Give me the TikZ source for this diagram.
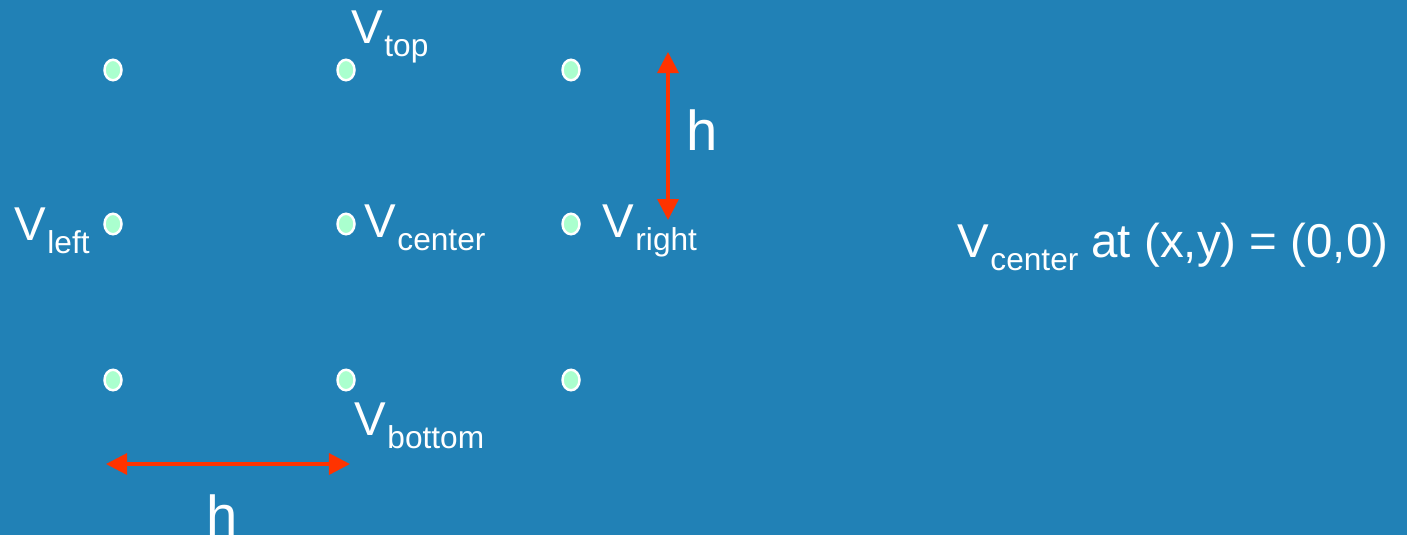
\documentclass[tikz,border=0pt]{standalone}
\usepackage{fontspec}
\setmainfont{Liberation Sans}
\usetikzlibrary{shapes.geometric,arrows.meta,positioning}
\definecolor{bgblue}{RGB}{33,129,182}
\definecolor{mint}{RGB}{170,255,206}
\definecolor{dimred}{RGB}{255,51,0}
\newcommand{\subfont}{\fontsize{9}{10}\selectfont}
\newcommand{\vlab}[1]{V\kern0.3pt\raisebox{-3.7pt}{\subfont #1}}

\begin{document}
\begin{tikzpicture}[x=0.01cm,y=-0.01cm,
	every node/.style={text=white,font=\fontsize{13.5}{15}\selectfont},
	gridpt/.style={draw=white,line width=0.7pt,fill=mint,ellipse,inner sep=0pt,minimum width=0.17cm,minimum height=0.205cm},
	vname/.style={anchor=base west,inner sep=0pt},
	dim/.style={draw=dimred,line width=0.9pt,{Triangle[length=0.21cm,width=0.21cm]}-{Triangle[length=0.21cm,width=0.21cm]}},
	hlab/.style={anchor=base,inner sep=0pt,font=\fontsize{16}{18}\selectfont}]
	\fill[bgblue] (0,0) rectangle (1407,535);
	\useasboundingbox (0,0) rectangle (1407,535);
	% grid points
	\node[gridpt] (p1) at (113,70) {};
	\node[gridpt] (p2) at (346,70) {};
	\node[gridpt] (p3) at (571,70) {};
	\node[gridpt] (p4) at (113,224) {};
	\node[gridpt] (p5) at (346,224) {};
	\node[gridpt] (p6) at (571,224) {};
	\node[gridpt] (p7) at (113,380) {};
	\node[gridpt] (p8) at (346,380) {};
	\node[gridpt] (p9) at (571,380) {};
	% labels
	\node[vname] (vtop) at (351,43) {\vlab{top}};
	\node[vname] (vleft) at (14,240) {\vlab{left}};
	\node[vname] (vcenter) at (364,237) {\vlab{center}};
	\node[vname] (vright) at (602,237) {\vlab{right}};
	\node[vname] (vbottom) at (354,435) {\vlab{bottom}};
	\node[vname] (origin) at (957,257) {\vlab{center} at (x,y) = (0,0)};
	% spacing
	\coordinate (va) at (668,52);
	\coordinate (vb) at (668,220);
	\coordinate (ha) at (106,464);
	\coordinate (hb) at (350,464);
	\draw[dim] (va) -- (vb);
	\draw[dim] (ha) -- (hb);
	\node[hlab] (hv) at (702,150) {h};
	\node[hlab] (hh) at (222,535) {h};
\end{tikzpicture}
\end{document}
